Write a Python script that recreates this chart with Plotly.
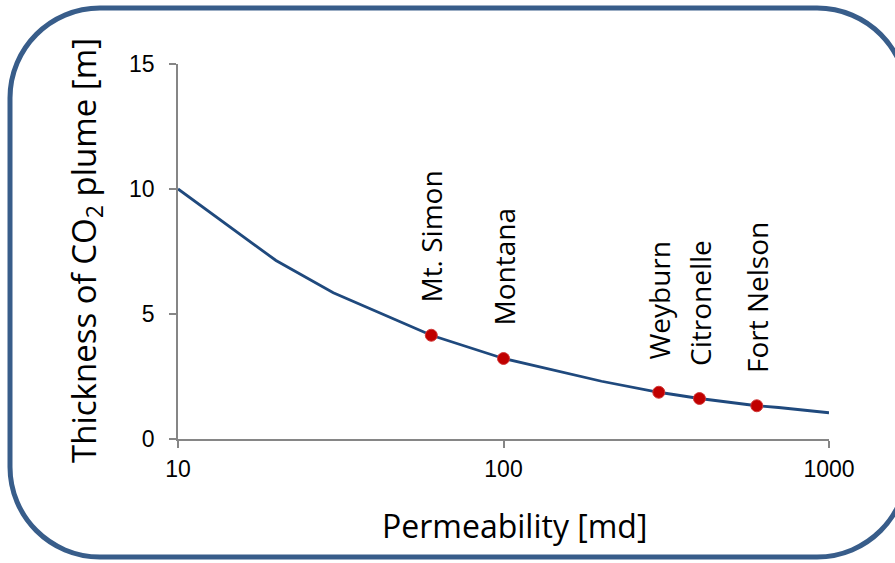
import numpy as np
import plotly.graph_objects as go

# Plume thickness vs. permeability curve
permeability = [10, 20, 30, 60, 100, 200, 300, 400, 600, 700, 1000]
thickness = [10.0, 7.14, 5.85, 4.15, 3.22, 2.31, 1.87, 1.62, 1.33, 1.26, 1.05]

# Storage sites marked on the curve
site_names = ["Mt. Simon", "Montana", "Weyburn", "Citronelle", "Fort Nelson"]
site_perm = [60, 100, 300, 400, 600]
site_thick = [4.15, 3.22, 1.87, 1.62, 1.33]

y_ticks = [0, 5, 10, 15]
x_ticks = [10, 100, 1000]

W, H = 895, 563
ML, MR, MT, MB = 178, 66, 64, 124
PW, PH = W - ML - MR, H - MT - MB


def px2paper(x, y):
    return (x - ML) / PW, (H - MB - y) / PH


def rounded_rect_path(x0, y0, x1, y1, r):
    k = 0.5523 * r
    pts = []

    def P(x, y):
        a, b = px2paper(x, y)
        return f"{a:.5f},{b:.5f}"

    pts.append("M" + P(x0 + r, y0))
    pts.append("L" + P(x1 - r, y0))
    pts.append("C" + P(x1 - r + k, y0) + " " + P(x1, y0 + r - k) + " " + P(x1, y0 + r))
    pts.append("L" + P(x1, y1 - r))
    pts.append("C" + P(x1, y1 - r + k) + " " + P(x1 - r + k, y1) + " " + P(x1 - r, y1))
    pts.append("L" + P(x0 + r, y1))
    pts.append("C" + P(x0 + r - k, y1) + " " + P(x0, y1 - r + k) + " " + P(x0, y1 - r))
    pts.append("L" + P(x0, y0 + r))
    pts.append("C" + P(x0, y0 + r - k) + " " + P(x0 + r - k, y0) + " " + P(x0 + r, y0))
    pts.append("Z")
    return " ".join(pts)


fig = go.Figure()

fig.add_trace(go.Scatter(
    x=permeability, y=thickness, mode="lines",
    line=dict(color="#1F497D", width=2.8),
    hoverinfo="skip", showlegend=False,
))

fig.add_trace(go.Scatter(
    x=site_perm, y=site_thick, mode="markers",
    marker=dict(color="#C00000", size=12, line=dict(color="#D23A3A", width=1)),
    text=site_names, showlegend=False,
))

label_font = dict(family="Open Sans", size=28, color="#000000")
for name, k, t in zip(site_names, site_perm, site_thick):
    fig.add_annotation(
        x=np.log10(k), y=t, xref="x", yref="y",
        text=name, textangle=-90, showarrow=False,
        xanchor="center", yanchor="bottom", yshift=31,
        font=label_font,
    )

# Axis titles
ax, ay = px2paper(85, 251)
fig.add_annotation(
    x=ax, y=ay, xref="paper", yref="paper",
    text="Thickness of CO<sub>2</sub> plume [m]", textangle=-90,
    showarrow=False, xanchor="center", yanchor="middle",
    font=dict(family="Open Sans", size=33, color="#000000"),
)
bx, by = px2paper(514, 525)
fig.add_annotation(
    x=bx, y=by, xref="paper", yref="paper",
    text="Permeability [md]", showarrow=False,
    xanchor="center", yanchor="middle",
    font=dict(family="Open Sans", size=32, color="#000000"),
)

# Rounded frame around the chart
fig.add_shape(
    type="path", xref="paper", yref="paper",
    path=rounded_rect_path(10, 8, 907, 557, 90),
    line=dict(color="#385D8A", width=5),
    fillcolor="rgba(0,0,0,0)", layer="above",
)

axis_common = dict(
    showgrid=False, zeroline=False, showline=True,
    linecolor="#868686", linewidth=1.5,
    ticks="outside", ticklen=7, tickwidth=1.5, tickcolor="#868686",
    tickfont=dict(family="Liberation Sans", size=23, color="#000000"),
)

fig.update_xaxes(
    type="log", range=[1, 3], tickvals=x_ticks,
    ticktext=[str(v) for v in x_ticks], ticklabelstandoff=2, **axis_common,
)
fig.update_yaxes(
    range=[0, 15], tickvals=y_ticks, ticklabelstandoff=10, **axis_common,
)

fig.update_layout(
    width=W, height=H,
    margin=dict(l=ML, r=MR, t=MT, b=MB),
    paper_bgcolor="white", plot_bgcolor="white",
    showlegend=False,
)

fig.write_html("out.html")
